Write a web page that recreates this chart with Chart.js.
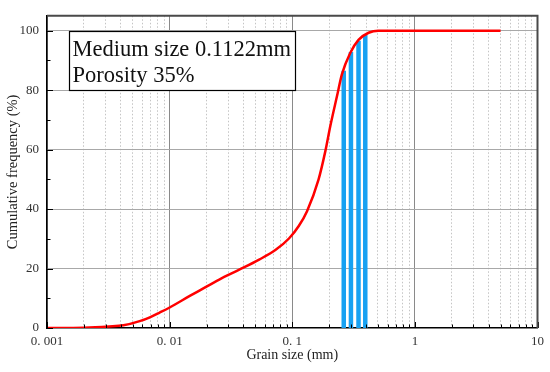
<!DOCTYPE html>
<html>
<head>
<meta charset="utf-8">
<script src="https://cdn.jsdelivr.net/npm/chart.js@4"></script>
<style>
  html, body { margin: 0; padding: 0; background: #fff; }
  #wrap { width: 550px; height: 372px; }
</style>
</head>
<body>
<div id="wrap"><canvas id="chart"></canvas></div>
<script>
  // grain size distribution
  const grainSizes = [0.001, 0.002, 0.0032, 0.0042, 0.0057, 0.0069, 0.0083, 0.01, 0.0146, 0.0175,
    0.0254, 0.037, 0.0537, 0.0733, 0.094, 0.113, 0.132, 0.164, 0.186, 0.205, 0.232, 0.254, 0.297,
    0.347, 0.419, 0.505, 1, 5];
  const cumulative = [0, 0.1, 0.5, 0.9, 2.3, 3.6, 5.2, 6.9, 10.8, 12.6,
    16.3, 19.6, 23.0, 26.3, 30.1, 34.3, 39.3, 50.0, 59.4, 68.2, 78.1, 85.3, 92.5,
    96.9, 99.3, 100, 100, 100];

  // blue sieve bars
  const barSizes = [0.263, 0.301, 0.347, 0.394];
  const barTops = [86.5, 92.8, 96.6, 98.6];

  const xMajorTicks = [0.001, 0.01, 0.1, 1, 10];
  const xTickLabels = ["0. 001", "0. 01", "0. 1", "1", "10"];
  const xMinorFactors = [2, 3, 4, 5, 6, 7, 8, 9];
  const yMajorTicks = [0, 20, 40, 60, 80, 100];
  const yMinorTicks = [10, 30, 50, 70, 90];

  const infoLines = ["Medium size 0.1122mm", "Porosity 35%"];

  const xMinorTicks = [];
  xMajorTicks.slice(0, -1).forEach((d) => xMinorFactors.forEach((f) => xMinorTicks.push(+(d * f).toPrecision(3))));

  const serif = "'Liberation Serif', 'Times New Roman', serif";

  const curve = grainSizes.map((x, i) => ({ x, y: cumulative[i] }));
  const bars = barSizes.map((x, i) => ({
    data: [{ x, y: 0 }, { x, y: barTops[i] }],
    borderColor: "#17a1f2",
    borderWidth: 4.5,
    borderCapStyle: "butt",
    pointRadius: 0,
    tension: 0
  }));

  const framePlugin = {
    id: "frame",
    afterDatasetsDraw(chart) {
      const { ctx, chartArea: a, scales } = chart;
      ctx.save();
      // inward ticks
      ctx.strokeStyle = "#000";
      ctx.lineWidth = 1;
      ctx.beginPath();
      xMajorTicks.forEach((v) => {
        const px = Math.round(scales.x.getPixelForValue(v)) + 0.5;
        ctx.moveTo(px, a.bottom); ctx.lineTo(px, a.bottom - 6);
      });
      xMinorTicks.forEach((v) => {
        const px = Math.round(scales.x.getPixelForValue(v)) + 0.5;
        ctx.moveTo(px, a.bottom); ctx.lineTo(px, a.bottom - 3.5);
      });
      yMajorTicks.forEach((v) => {
        const py = Math.round(scales.y.getPixelForValue(v)) + 0.5;
        ctx.moveTo(a.left, py); ctx.lineTo(a.left + 6, py);
      });
      yMinorTicks.forEach((v) => {
        const py = Math.round(scales.y.getPixelForValue(v)) + 0.5;
        ctx.moveTo(a.left, py); ctx.lineTo(a.left + 3.5, py);
      });
      ctx.stroke();

      // top and right frame
      ctx.strokeStyle = "#4a4a4a";
      ctx.lineWidth = 2;
      ctx.beginPath();
      ctx.moveTo(a.left, a.top);
      ctx.lineTo(a.right, a.top);
      ctx.lineTo(a.right, a.bottom);
      ctx.stroke();

      // info box
      const bx = 69.5, by = Math.round(scales.y.getPixelForValue(100)) + 0.5;
      const bw = 226, bh = Math.round(scales.y.getPixelForValue(80)) - by + 0.5;
      ctx.fillStyle = "#fff";
      ctx.fillRect(bx, by, bw, bh);
      ctx.strokeStyle = "#000";
      ctx.lineWidth = 1.2;
      ctx.strokeRect(bx, by, bw, bh);
      ctx.fillStyle = "#111";
      ctx.font = "22.5px " + serif;
      ctx.textBaseline = "alphabetic";
      ctx.textAlign = "left";
      infoLines.forEach((t, i) => ctx.fillText(t, bx + 3, by + 24.5 + i * 26));
      ctx.restore();
    }
  };

  new Chart(document.getElementById("chart"), {
    type: "line",
    data: {
      datasets: [
        {
          data: curve,
          borderColor: "#ff0000",
          borderWidth: 2.5,
          pointRadius: 0,
          cubicInterpolationMode: "monotone"
        },
        ...bars
      ]
    },
    options: {
      responsive: true,
      maintainAspectRatio: false,
      animation: false,
      layout: { padding: { top: 8, right: 10, left: 0, bottom: 0 } },
      plugins: { legend: { display: false }, tooltip: { enabled: false } },
      scales: {
        x: {
          type: "logarithmic",
          position: "bottom",
          min: 0.001,
          max: 10,
          afterBuildTicks: (s) => { s.ticks = xMajorTicks.map((value) => ({ value })); },
          afterFit: (s) => { s.height = 44; },
          ticks: {
            color: "#333",
            font: { family: serif, size: 13 },
            padding: 6,
            maxRotation: 0,
            autoSkip: false,
            callback: (v) => xTickLabels[xMajorTicks.indexOf(v)] ?? ""
          },
          grid: { color: "#8a8a8a", lineWidth: 1, drawTicks: false },
          border: { color: "#000", width: 1.5 },
          title: {
            display: true,
            text: "Grain size (mm)",
            color: "#222",
            font: { family: serif, size: 14 },
            padding: { top: 0, bottom: 8 }
          }
        },
        xm: {
          type: "logarithmic",
          position: "bottom",
          min: 0.001,
          max: 10,
          afterBuildTicks: (s) => { s.ticks = xMinorTicks.map((value) => ({ value })); },
          afterFit: (s) => { s.height = 0; },
          ticks: { display: false },
          grid: { color: "#c4c4c4", lineWidth: 1, drawTicks: false },
          border: { display: false, dash: [1.5, 2] }
        },
        y: {
          min: 0,
          max: 105,
          afterBuildTicks: (s) => { s.ticks = yMajorTicks.map((value) => ({ value })); },
          afterFit: (s) => { s.width = 47; },
          ticks: {
            color: "#333",
            font: { family: serif, size: 13 },
            padding: 8
          },
          grid: {
            color: (c) => (c.tick && c.tick.value === 0 ? "rgba(0,0,0,0)" : "#a8a8a8"),
            lineWidth: 1,
            drawTicks: false
          },
          border: { color: "#000", width: 1.5 },
          title: {
            display: true,
            text: "Cumulative frequency (%)",
            color: "#222",
            font: { family: serif, size: 14.5 },
            padding: { top: 4, bottom: 0 }
          }
        }
      }
    },
    plugins: [framePlugin]
  });
</script>
</body>
</html>
